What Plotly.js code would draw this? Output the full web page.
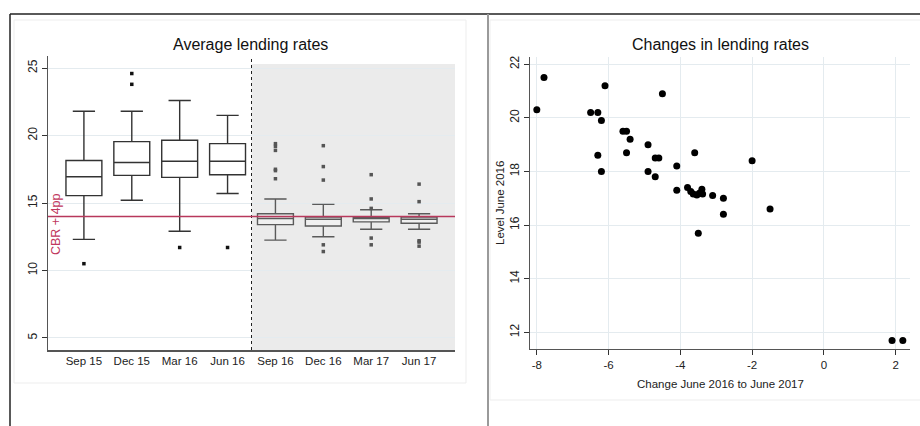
<!DOCTYPE html>
<html>
<head>
<meta charset="utf-8">
<script src="https://cdn.plot.ly/plotly-3.0.1.min.js"></script>
<style>
html,body{margin:0;padding:0;background:#fff;}
#chart{width:920px;height:426px;}
</style>
</head>
<body>
<div id="chart"></div>
<script>
// ---- Data: left panel (box plots of average lending rates) ----
const categories = ["Sep 15", "Dec 15", "Mar 16", "Jun 16", "Sep 16", "Dec 16", "Mar 17", "Jun 17"];
const q1Vals      = [15.55, 17.05, 16.9, 17.1, 13.4, 13.3, 13.6, 13.5];
const medianVals  = [16.95, 18.0, 18.1, 18.1, 13.85, 13.8, 13.85, 13.8];
const q3Vals      = [18.15, 19.55, 19.65, 19.4, 14.2, 13.95, 13.95, 13.95];
const lowerVals   = [12.3, 15.2, 12.9, 15.7, 12.25, 12.5, 13.05, 13.05];
const upperVals   = [21.8, 21.8, 22.6, 21.5, 15.3, 14.9, 14.5, 14.2];
const outlierCat  = [0, 1, 1, 2, 3, 4, 4, 4, 4, 4, 4, 5, 5, 5, 5, 5, 6, 6, 6, 6, 6, 7, 7, 7, 7, 7];
const outlierVal  = [10.5, 24.6, 23.8, 11.7, 11.7, 19.4, 19.2, 18.9, 17.5, 17.4, 16.8, 19.25, 17.7, 16.7, 11.9, 11.4, 17.1, 15.3, 14.6, 12.4, 11.9, 16.4, 15.1, 12.2, 12.1, 11.8];
const cbrLevel = 14;
const leftTicks = [5, 10, 15, 20, 25];

// ---- Data: right panel (scatter of changes) ----
const changeX = [-8.0, -7.8, -6.5, -6.3, -6.2, -6.1, -6.3, -6.2, -5.6, -5.5, -5.4, -5.5, -4.9, -4.7, -4.6, -4.9, -4.7, -4.5, -4.1, -4.1, -3.6, -2.0, -3.8, -3.71, -3.64, -3.54, -3.47, -3.40, -3.38, -3.1, -2.8, -2.8, -1.5, -3.5, 1.9, 2.2];
const levelY  = [20.3, 21.5, 20.2, 20.2, 19.9, 21.2, 18.6, 18.0, 19.5, 19.5, 19.2, 18.7, 19.0, 18.5, 18.5, 18.0, 17.8, 20.9, 18.2, 17.3, 18.7, 18.4, 17.4, 17.25, 17.16, 17.12, 17.19, 17.34, 17.16, 17.1, 17.0, 16.4, 16.6, 15.7, 11.7, 11.7];
const rightXTicks = [-8, -6, -4, -2, 0, 2];
const rightYTicks = [12, 14, 16, 18, 20, 22];

const idx = categories.map((c, i) => i);
const FONT = "Liberation Sans, Arial, sans-serif";
const W = 920, H = 426;
const px = v => v / W;
const py = v => 1 - v / H;

const boxBefore = {
  type: 'box', x: idx.slice(0, 4),
  q1: q1Vals.slice(0, 4), median: medianVals.slice(0, 4), q3: q3Vals.slice(0, 4),
  lowerfence: lowerVals.slice(0, 4), upperfence: upperVals.slice(0, 4),
  width: 0.75, whiskerwidth: 0.62, boxpoints: false,
  fillcolor: '#ffffff', line: {color: '#333333', width: 1.4},
  xaxis: 'x', yaxis: 'y', showlegend: false, hoverinfo: 'skip'
};
const boxAfter = {
  type: 'box', x: idx.slice(4),
  q1: q1Vals.slice(4), median: medianVals.slice(4), q3: q3Vals.slice(4),
  lowerfence: lowerVals.slice(4), upperfence: upperVals.slice(4),
  width: 0.75, whiskerwidth: 0.62, boxpoints: false,
  fillcolor: 'rgba(255,255,255,0.25)', line: {color: '#5a5a5a', width: 1.4},
  xaxis: 'x', yaxis: 'y', showlegend: false, hoverinfo: 'skip'
};
const outliers = {
  type: 'scatter', mode: 'markers', x: outlierCat, y: outlierVal,
  marker: {symbol: 'square', size: 3.5, color: outlierCat.map(c => c < 4 ? '#111' : '#555')},
  xaxis: 'x', yaxis: 'y', showlegend: false, hoverinfo: 'skip'
};
const scatter = {
  type: 'scatter', mode: 'markers', x: changeX, y: levelY,
  marker: {symbol: 'circle', size: 7, color: '#000'},
  xaxis: 'x2', yaxis: 'y2', showlegend: false, hoverinfo: 'skip'
};

const gridC = '#e4ebef';
const layout = {
  width: W, height: H,
  margin: {l: 0, r: 0, t: 0, b: 0},
  paper_bgcolor: '#fff', plot_bgcolor: 'rgba(0,0,0,0)',
  font: {family: FONT, color: '#222', size: 11},
  showlegend: false,
  xaxis: {
    domain: [px(48), px(455)], range: [-0.75, 7.75], anchor: 'y',
    tickvals: idx, ticktext: categories, ticks: '',
    tickfont: {size: 11.5, color: '#222'},
    showgrid: false, zeroline: false, showline: true, linecolor: '#555', linewidth: 1.5,
    fixedrange: true
  },
  yaxis: {
    domain: [py(350), py(56)], range: [4.1, 25.9], anchor: 'x',
    tickvals: leftTicks, ticktext: leftTicks.map(String), tickangle: -90,
    ticks: 'outside', ticklen: 5, tickcolor: '#333', tickwidth: 1,
    tickfont: {size: 12, color: '#222'},
    showgrid: true, gridcolor: gridC, gridwidth: 1,
    zeroline: false, showline: true, linecolor: '#555', linewidth: 1.5,
    fixedrange: true
  },
  xaxis2: {
    domain: [px(530), px(910)], range: [-8.19, 2.40], anchor: 'y2',
    tickvals: rightXTicks, ticktext: rightXTicks.map(String),
    ticks: 'outside', ticklen: 5, tickcolor: '#333',
    tickfont: {size: 11.5, color: '#222'},
    showgrid: true, gridcolor: gridC, zeroline: false,
    showline: true, linecolor: '#555', linewidth: 1.5, fixedrange: true
  },
  yaxis2: {
    domain: [py(348.7), py(56.7)], range: [11.39, 22.28], anchor: 'x2',
    tickvals: rightYTicks, ticktext: rightYTicks.map(String), tickangle: -90,
    ticks: 'outside', ticklen: 5, tickcolor: '#333',
    tickfont: {size: 12, color: '#222'},
    showgrid: true, gridcolor: gridC, zeroline: false,
    showline: true, linecolor: '#555', linewidth: 1.5, fixedrange: true
  },
  shapes: [
    // grey "after" region
    {type: 'rect', xref: 'x', yref: 'y', x0: 3.5, x1: 7.75, y0: 4.1, y1: 25.3,
     fillcolor: '#ebebeb', line: {width: 0}, layer: 'below'},
    // dashed separator
    {type: 'line', xref: 'x', yref: 'y', x0: 3.5, x1: 3.5, y0: 4.1, y1: 25.9,
     line: {color: '#222', width: 1, dash: 'dot'}, layer: 'above'},
    // CBR + 4pp line
    {type: 'line', xref: 'x', yref: 'y', x0: -0.75, x1: 7.75, y0: cbrLevel, y1: cbrLevel,
     line: {color: '#b8385c', width: 1.3}, layer: 'above'},
    // outer frame lines
    {type: 'line', xref: 'paper', yref: 'paper', x0: px(10), x1: 1, y0: py(14), y1: py(14),
     line: {color: '#222', width: 1.5}},
    {type: 'line', xref: 'paper', yref: 'paper', x0: px(10), x1: px(10), y0: 0, y1: py(14),
     line: {color: '#222', width: 1.5}},
    {type: 'line', xref: 'paper', yref: 'paper', x0: px(488), x1: px(488), y0: 0, y1: py(14),
     line: {color: '#9a9a9a', width: 2}},
    // light panel borders
    {type: 'rect', xref: 'paper', yref: 'paper', x0: px(14), x1: px(466), y0: py(383), y1: py(20),
     line: {color: '#ededed', width: 1}, layer: 'below'},
    {type: 'rect', xref: 'paper', yref: 'paper', x0: px(490), x1: px(930), y0: py(400), y1: py(20),
     line: {color: '#ededed', width: 1}, layer: 'below'}
  ],
  annotations: [
    {text: 'Average lending rates', xref: 'paper', yref: 'paper', x: px(251), y: py(44),
     xanchor: 'center', yanchor: 'middle', showarrow: false, font: {size: 16, color: '#111'}},
    {text: 'Changes in lending rates', xref: 'paper', yref: 'paper', x: px(720), y: py(44),
     xanchor: 'center', yanchor: 'middle', showarrow: false, font: {size: 16, color: '#111'}},
    {text: 'CBR + 4pp', xref: 'paper', yref: 'paper', x: px(56), y: py(224),
     xanchor: 'center', yanchor: 'middle', textangle: -90, showarrow: false,
     font: {size: 12.5, color: '#c0385e'}},
    {text: 'Level June 2016', xref: 'paper', yref: 'paper', x: px(500), y: py(203),
     xanchor: 'center', yanchor: 'middle', textangle: -90, showarrow: false,
     font: {size: 11.5, color: '#222'}},
    {text: 'Change June 2016 to June 2017', xref: 'paper', yref: 'paper', x: px(720), y: py(384),
     xanchor: 'center', yanchor: 'middle', showarrow: false,
     font: {size: 11.5, color: '#222'}}
  ]
};

Plotly.newPlot('chart', [boxBefore, boxAfter, outliers, scatter], layout, {displayModeBar: false, staticPlot: true});
</script>
</body>
</html>
